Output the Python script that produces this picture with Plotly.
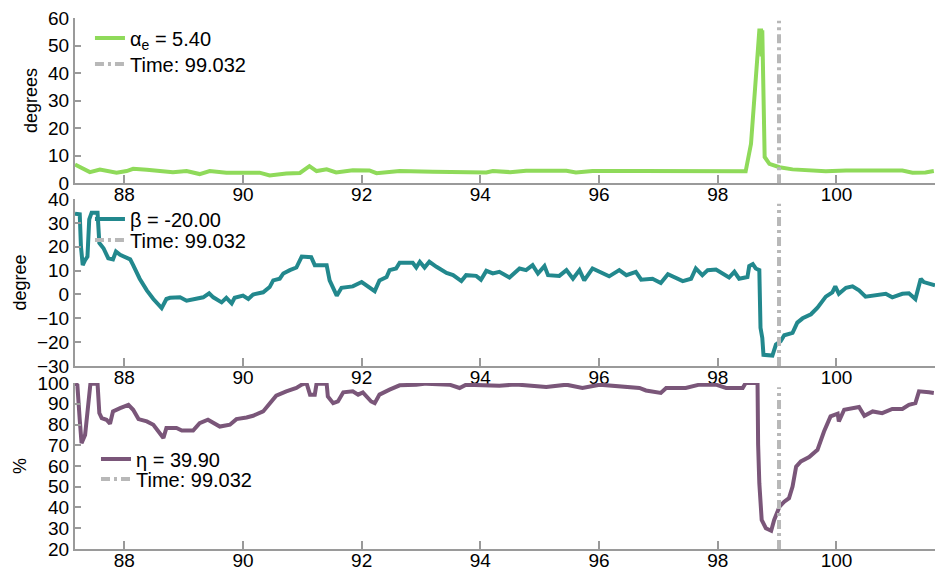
import plotly.graph_objects as go

# ---- data -----------------------------------------------------------------
time_marker = 99.032

# angle of attack alpha_e [degrees]
alpha_t = [87.17, 87.42, 87.59, 87.76, 87.87, 88.04, 88.15, 88.38, 88.60, 88.82,
           89.05, 89.27, 89.44, 89.72, 90.28, 90.45, 90.73, 90.96, 91.12, 91.24,
           91.41, 91.57, 91.85, 92.13, 92.25, 92.42, 92.64, 93.20, 93.76, 94.10,
           94.21, 94.50, 94.77, 95.45, 95.61, 95.89, 96.68, 98.47, 98.56, 98.61,
           98.65, 98.70, 98.73, 98.74, 98.75, 98.77, 98.79, 98.87, 99.04, 99.26,
           99.82, 100.16, 101.11, 101.28, 101.50, 101.64]
alpha_v = [6.8, 4.0, 4.9, 4.4, 3.8, 4.4, 5.2, 4.9, 4.4, 4.0,
           4.4, 3.3, 4.4, 3.8, 3.8, 2.8, 3.5, 3.7, 6.2, 4.4,
           5.0, 3.9, 4.7, 4.6, 3.6, 3.9, 4.4, 4.1, 4.1, 3.9,
           4.4, 4.0, 4.5, 4.5, 3.9, 4.4, 4.4, 4.3, 14.3, 30.0,
           42.2, 55.5, 55.5, 46.0, 55.5, 26.4, 9.5, 7.0, 5.8, 5.0,
           4.3, 4.6, 4.6, 3.8, 3.9, 4.4]

# sideslip beta [degree]
beta_t = [87.17, 87.25, 87.27, 87.30, 87.34, 87.38, 87.41, 87.45, 87.55, 87.58,
          87.65, 87.73, 87.81, 87.86, 87.93, 88.10, 88.15, 88.26, 88.38, 88.49,
          88.63, 88.71, 88.77, 88.88, 88.94, 89.05, 89.22, 89.33, 89.43, 89.50,
          89.64, 89.72, 89.81, 89.86, 90.00, 90.09, 90.17, 90.34, 90.45, 90.51,
          90.62, 90.68, 90.79, 90.90, 90.99, 91.15, 91.21, 91.41, 91.46, 91.52,
          91.58, 91.66, 91.85, 92.00, 92.08, 92.22, 92.30, 92.42, 92.47, 92.58,
          92.64, 92.86, 92.92, 92.98, 93.06, 93.14, 93.26, 93.43, 93.54, 93.68,
          93.76, 93.93, 94.01, 94.10, 94.21, 94.32, 94.49, 94.66, 94.77, 94.88,
          94.97, 95.08, 95.14, 95.33, 95.45, 95.56, 95.67, 95.75, 95.89, 96.01,
          96.17, 96.34, 96.46, 96.62, 96.71, 96.90, 97.04, 97.16, 97.35, 97.41,
          97.55, 97.63, 97.74, 97.83, 97.97, 98.08, 98.19, 98.28, 98.36, 98.50,
          98.53, 98.59, 98.64, 98.70, 98.72, 98.75, 98.77, 98.92, 98.98, 99.06,
          99.12, 99.26, 99.34, 99.43, 99.57, 99.68, 99.82, 99.93, 99.98, 100.04,
          100.16, 100.27, 100.38, 100.49, 100.66, 100.83, 100.94, 101.11, 101.22, 101.33,
          101.42, 101.47, 101.66]
beta_v = [33.9, 33.6, 20.1, 12.3, 14.4, 15.9, 31.5, 34.3, 34.3, 21.6,
          19.4, 15.2, 14.7, 18.0, 16.6, 14.7, 12.3, 6.6, 1.7, -1.9,
          -5.7, -1.9, -1.4, -1.4, -1.2, -2.6, -1.9, -1.2, 0.5, -1.2,
          -3.3, -1.4, -3.7, -1.4, -0.5, -1.9, 0.0, 0.9, 3.1, 5.9,
          6.6, 8.8, 10.2, 11.3, 15.9, 15.6, 12.3, 12.3, 5.9, 3.1,
          -0.5, 2.8, 3.4, 5.2, 3.8, 1.4, 5.9, 7.3, 10.2, 10.9,
          13.3, 13.3, 11.3, 13.7, 11.3, 13.7, 11.6, 9.0, 8.1, 5.6,
          8.1, 7.8, 6.2, 9.9, 8.8, 9.5, 7.1, 10.9, 10.2, 12.3,
          8.8, 11.9, 8.1, 7.8, 10.2, 6.6, 10.2, 5.9, 10.9, 9.5,
          7.6, 10.2, 8.1, 9.5, 6.2, 6.6, 4.8, 8.5, 6.6, 5.6,
          6.6, 10.9, 8.1, 10.2, 10.5, 8.8, 7.1, 9.5, 6.6, 7.3,
          11.9, 12.7, 10.9, 10.2, -14.0, -18.2, -25.3, -25.6, -21.0, -19.6,
          -17.1, -16.1, -11.8, -10.0, -8.3, -5.5, -0.9, 0.9, 3.4, 0.3,
          2.8, 3.4, 1.7, -0.9, -0.5, 0.3, -1.2, 0.3, 0.5, -1.9,
          6.6, 5.2, 3.8]

# efficiency eta [%]
eta_t = [87.17, 87.21, 87.25, 87.28, 87.34, 87.39, 87.43, 87.55, 87.58, 87.62,
         87.70, 87.76, 87.81, 87.93, 88.07, 88.15, 88.24, 88.38, 88.49, 88.66,
         88.71, 88.88, 88.97, 89.16, 89.27, 89.41, 89.61, 89.78, 89.89, 90.06,
         90.17, 90.34, 90.45, 90.56, 90.73, 90.90, 90.99, 91.07, 91.13, 91.21,
         91.24, 91.41, 91.43, 91.52, 91.60, 91.69, 91.85, 91.94, 92.02, 92.16,
         92.22, 92.30, 92.47, 92.64, 92.92, 93.09, 93.48, 93.65, 93.76, 94.32,
         94.60, 95.11, 95.45, 95.72, 96.01, 96.68, 96.79, 97.04, 97.13, 97.46,
         97.69, 97.97, 98.14, 98.42, 98.47, 98.67, 98.68, 98.70, 98.74, 98.81,
         98.90, 98.95, 99.04, 99.12, 99.20, 99.26, 99.32, 99.40, 99.54, 99.68,
         99.79, 99.90, 100.02, 100.04, 100.13, 100.21, 100.38, 100.47, 100.61, 100.77,
         100.94, 101.11, 101.22, 101.33, 101.39, 101.56, 101.64]
eta_v = [99.7, 99.0, 82.3, 71.0, 75.0, 88.7, 99.7, 99.7, 85.5, 83.1,
         82.3, 80.4, 86.3, 87.9, 89.5, 87.1, 82.6, 81.5, 79.9, 73.5,
         78.3, 78.3, 77.1, 77.1, 80.7, 82.3, 79.0, 79.9, 82.6, 83.4,
         84.2, 86.3, 90.3, 93.9, 96.0, 97.6, 99.2, 100.0, 94.4, 94.4,
         99.7, 99.7, 93.5, 90.3, 91.1, 95.5, 96.0, 94.4, 95.5, 91.1,
         90.3, 94.4, 96.8, 98.9, 99.2, 99.7, 99.2, 97.6, 99.2, 98.7,
         99.3, 98.1, 99.2, 97.6, 99.2, 97.6, 96.4, 95.2, 97.6, 97.6,
         99.2, 99.2, 97.6, 97.6, 100.0, 100.0, 70.2, 51.7, 34.0, 30.0,
         28.8, 34.0, 40.4, 42.8, 44.5, 50.1, 59.7, 62.2, 64.3, 67.8,
         76.6, 83.9, 85.2, 81.5, 87.1, 87.5, 88.4, 84.2, 86.3, 85.5,
         87.5, 87.5, 89.5, 90.3, 96.0, 95.5, 95.2]

# legend values shown for each panel
alpha_label = 5.40
beta_label = -20.00
eta_label = 39.90

# y extent of the time marker in each panel
marker_span = [(0, 59), (-30, 38), (20, 98)]

# ---- styling ----------------------------------------------------------------
GREEN = "#8fda5a"
TEAL = "#22888d"
PURPLE = "#7a5679"
GRAY = "#b8b8b8"
AXIS = "#9a9a9a"
FONT = "Liberation Sans, Arial, sans-serif"

fig = go.Figure()

# each legend entry gets its own legend box so it can be placed freely
panels = [
    dict(t=alpha_t, v=alpha_v, color=GREEN, name=f"α<sub>e</sub> = {alpha_label:.2f}",
         xa="x", ya="y", legends=("legend", "legend2")),
    dict(t=beta_t, v=beta_v, color=TEAL, name=f"β = {beta_label:.2f}",
         xa="x2", ya="y2", legends=("legend3", "legend4")),
    dict(t=eta_t, v=eta_v, color=PURPLE, name=f"η = {eta_label:.2f}",
         xa="x3", ya="y3", legends=("legend5", "legend6")),
]

for p, span in zip(panels, marker_span):
    fig.add_trace(go.Scatter(
        x=p["t"], y=p["v"], mode="lines", name=p["name"],
        line=dict(color=p["color"], width=4),
        xaxis=p["xa"], yaxis=p["ya"], legend=p["legends"][0],
    ))
    fig.add_trace(go.Scatter(
        x=[time_marker, time_marker], y=list(span), mode="lines",
        name=f"Time: {time_marker:.3f}",
        line=dict(color=GRAY, width=4, dash="9px,4px,3px,4px"),
        xaxis=p["xa"], yaxis=p["ya"], legend=p["legends"][1],
    ))

xcommon = dict(
    range=[87.17, 101.66], tickvals=[88, 90, 92, 94, 96, 98, 100],
    ticks="inside", ticklen=8, tickwidth=1.5, tickcolor=AXIS,
    showline=True, linecolor=AXIS, linewidth=2, showgrid=False, zeroline=False,
    tickfont=dict(family=FONT, size=19, color="black"), automargin=False,
    ticklabelstandoff=-7,
)
ycommon = dict(
    ticks="inside", ticklen=6, tickwidth=1.5, tickcolor=AXIS,
    showline=True, linecolor=AXIS, linewidth=2, showgrid=False, zeroline=False,
    tickfont=dict(family=FONT, size=19, color="black"), automargin=False,
)


def legend_box(x, y):
    return dict(x=x, y=y, xanchor="left", yanchor="middle",
                bgcolor="rgba(0,0,0,0)", borderwidth=0,
                font=dict(family=FONT, size=20, color="black"))


# plot area spans pixel rows 18..549 (531 px); panel domains in paper units
fig.update_layout(
    width=940, height=571,
    margin=dict(l=75, r=5, t=18, b=22, autoexpand=False),
    paper_bgcolor="white", plot_bgcolor="white",
    font=dict(family=FONT, size=19, color="black"),
    xaxis=dict(domain=[0, 1], anchor="y", **xcommon),
    xaxis2=dict(domain=[0, 1], anchor="y2", **xcommon),
    xaxis3=dict(domain=[0, 1], anchor="y3", **xcommon),
    yaxis=dict(domain=[0.689, 1.0], anchor="x", range=[0, 60], dtick=10,
               title=dict(text="degrees", standoff=6, font=dict(size=18)), **ycommon),
    yaxis2=dict(domain=[0.3446, 0.659], anchor="x2", range=[-30, 40], dtick=10,
                title=dict(text="degree", standoff=6, font=dict(size=18)), **ycommon),
    yaxis3=dict(domain=[0.0, 0.3126], anchor="x3", range=[20, 100], dtick=10,
                title=dict(text="%", standoff=6, font=dict(size=18)), **ycommon),
    legend=legend_box(0.0174, 0.9623),
    legend2=legend_box(0.0174, 0.9134),
    legend3=legend_box(0.0174, 0.6215),
    legend4=legend_box(0.0174, 0.5819),
    legend5=legend_box(0.0244, 0.1695),
    legend6=legend_box(0.0244, 0.1318),
    showlegend=True,
)

fig.write_html("out.html")
